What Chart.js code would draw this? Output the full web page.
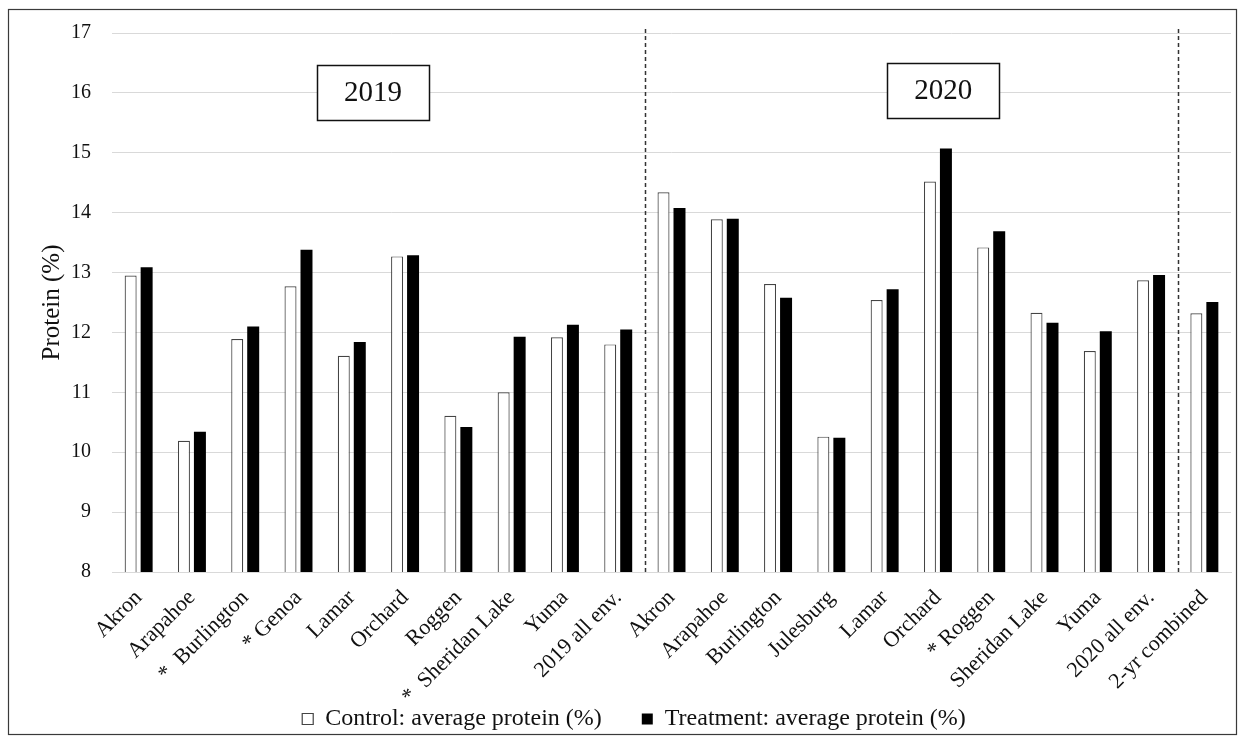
<!DOCTYPE html>
<html>
<head>
<meta charset="utf-8">
<script src="https://cdn.jsdelivr.net/npm/chart.js@4.4.1/dist/chart.umd.min.js"></script>
<style>
  html, body { margin: 0; padding: 0; background: #ffffff; }
  #wrap { width: 1243px; height: 742px; position: relative; }
</style>
</head>
<body>
<div id="wrap"><canvas id="c" width="1243" height="742"></canvas></div>
<script>
// ---- data ----
const categories = ['Akron', 'Arapahoe', '*  Burlington', '* Genoa', 'Lamar', 'Orchard', 'Roggen',
  '*  Sheridan Lake', 'Yuma', '2019 all env.', 'Akron', 'Arapahoe', 'Burlington', 'Julesburg',
  'Lamar', 'Orchard', '* Roggen', 'Sheridan Lake', 'Yuma', '2020 all env.', '2-yr combined'];
const controlProtein = [12.95, 10.19, 11.89, 12.77, 11.61, 13.27, 10.61, 11.00, 11.92, 11.80,
  14.34, 13.89, 12.81, 10.26, 12.54, 14.52, 13.42, 12.33, 11.69, 12.87, 12.32];
const treatmentProtein = [13.09, 10.34, 12.10, 13.38, 11.84, 13.29, 10.42, 11.93, 12.13, 12.05,
  14.08, 13.90, 12.58, 10.24, 12.72, 15.07, 13.69, 12.16, 12.02, 12.96, 12.51];
const seriesNames = ['Control: average protein (%)', 'Treatment: average protein (%)'];
const yTicks = [8, 9, 10, 11, 12, 13, 14, 15, 16, 17];
const yearLabels = ['2019', '2020'];
const yAxisTitle = 'Protein (%)';

const SERIF = '"Liberation Serif", "Times New Roman", serif';

const framePlugin = {
  id: 'frame',
  beforeDraw(chart) {
    const ctx = chart.ctx;
    ctx.save();
    ctx.fillStyle = '#ffffff';
    ctx.fillRect(0, 0, chart.width, chart.height);
    ctx.strokeStyle = '#3a3a3a';
    ctx.lineWidth = 1.2;
    ctx.strokeRect(8.5, 9.5, chart.width - 15, chart.height - 17);
    ctx.restore();
  }
};

const overlayPlugin = {
  id: 'overlay',
  afterDatasetsDraw(chart) {
    const ctx = chart.ctx;
    const xs = chart.scales.x, ys = chart.scales.y;
    const area = chart.chartArea;
    ctx.save();
    // dashed separators between year groups
    ctx.strokeStyle = '#333333';
    ctx.lineWidth = 1.5;
    ctx.setLineDash([4, 3]);
    [9.5, 19.5].forEach(v => {
      const x = Math.round(xs.getPixelForValue(v)) + 0.5;
      ctx.beginPath();
      ctx.moveTo(x, area.top - 4);
      ctx.lineTo(x, area.bottom);
      ctx.stroke();
    });
    ctx.setLineDash([]);
    // year boxes
    const boxes = [[yearLabels[0], 4.4, 16.0], [yearLabels[1], 15.1, 16.04]];
    boxes.forEach(([txt, xv, yv]) => {
      const cx = xs.getPixelForValue(xv);
      const cy = ys.getPixelForValue(yv);
      const w = 112, h = 55;
      ctx.fillStyle = '#ffffff';
      ctx.fillRect(cx - w / 2, cy - h / 2, w, h);
      ctx.strokeStyle = '#111111';
      ctx.lineWidth = 1.5;
      ctx.strokeRect(Math.round(cx - w / 2) + 0.5, Math.round(cy - h / 2) + 0.5, w, h);
      ctx.fillStyle = '#111111';
      ctx.font = '29px ' + SERIF;
      ctx.textAlign = 'center';
      ctx.textBaseline = 'middle';
      ctx.fillText(txt, cx, cy + 1);
    });
    ctx.restore();
  }
};

new Chart(document.getElementById('c'), {
  type: 'bar',
  data: {
    labels: categories,
    datasets: [
      {
        label: seriesNames[0],
        data: controlProtein,
        backgroundColor: '#ffffff',
        borderColor: '#444444',
        borderWidth: 1.2,
        categoryPercentage: 0.6,
        barPercentage: 0.75
      },
      {
        label: seriesNames[1],
        data: treatmentProtein,
        backgroundColor: '#000000',
        borderColor: '#000000',
        borderWidth: 0,
        categoryPercentage: 0.6,
        barPercentage: 0.75
      }
    ]
  },
  options: {
    responsive: false,
    animation: false,
    devicePixelRatio: 1,
    layout: { padding: { top: 32, right: 12, bottom: 1, left: 37 } },
    plugins: {
      tooltip: { enabled: false },
      legend: {
        position: 'bottom',
        labels: {
          color: '#111111',
          font: { family: SERIF, size: 24 },
          boxWidth: 11,
          boxHeight: 11,
          padding: 40
        }
      }
    },
    scales: {
      x: {
        grid: { display: false, drawTicks: false },
        border: { display: true, color: '#d9d9d9' },
        ticks: {
          autoSkip: false,
          maxRotation: 45,
          minRotation: 45,
          color: '#111111',
          padding: 13,
          font: { family: SERIF, size: 22 }
        },
        afterFit(scale) {
          scale.height = 95;
          scale._computeLabelArea = function () { return undefined; };
        }
      },
      y: {
        min: 8,
        max: 17,
        afterBuildTicks(scale) { scale.ticks = yTicks.map(v => ({ value: v })); },
        grid: { color: '#d9d9d9', lineWidth: 1, drawTicks: false },
        border: { display: false },
        ticks: {
          color: '#111111',
          padding: 21,
          font: { family: SERIF, size: 20 }
        },
        title: {
          display: true,
          text: yAxisTitle,
          color: '#111111',
          font: { family: SERIF, size: 25 },
          padding: { top: 0, bottom: 0 }
        },
        afterFit(scale) { scale.width = 75; }
      }
    }
  },
  plugins: [framePlugin, overlayPlugin]
});
</script>
</body>
</html>
